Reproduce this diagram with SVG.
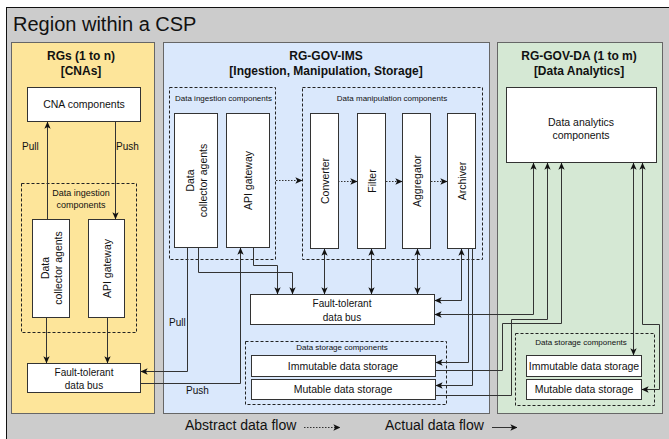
<svg xmlns="http://www.w3.org/2000/svg" width="669" height="439" viewBox="0 0 669 439">
<style>
text{font-family:"Liberation Sans",Arial,sans-serif;fill:#111}
.t{font-size:10.5px;text-anchor:middle}
.s{font-size:8px}
.b{font-size:12px;font-weight:bold;text-anchor:middle}
.box{fill:#fff;stroke:#333;stroke-width:1}
.dash{fill:none;stroke:#222;stroke-width:1;stroke-dasharray:3 2}
.c{fill:none;stroke:#333;stroke-width:1}
.dot{fill:none;stroke:#333;stroke-width:1;stroke-dasharray:1.5 1.5}
.v{font-size:10.5px;text-anchor:middle;dominant-baseline:central}
</style>
<defs>
<marker id="a" viewBox="0 0 10 10" refX="9.5" refY="5" markerWidth="7" markerHeight="7" markerUnits="userSpaceOnUse" orient="auto-start-reverse"><path d="M0,0.5 L10,5 L0,9.5 L2.5,5 z" fill="#111"/></marker>
</defs>
<rect x="6.5" y="7.5" width="670" height="440" fill="#cccccc" stroke="#111"/>
<text x="13" y="31" style="font-size:20px">Region within a CSP</text>

<g id="panel-rgs">
<rect x="11.5" y="42.5" width="143" height="371" fill="#fde59a" stroke="#666"/>
<text class="b" x="81" y="60">RGs (1 to n)</text>
<text class="b" x="81" y="75">[CNAs]</text>
</g>
<g id="panel-ims">
<rect x="163.5" y="42.5" width="326" height="371" fill="#dae8fc" stroke="#666"/>
<text class="b" x="326" y="60">RG-GOV-IMS</text>
<text class="b" x="326" y="75">[Ingestion, Manipulation, Storage]</text>
</g>
<g id="panel-da">
<rect x="497.5" y="42.5" width="165" height="371" fill="#d5e8d4" stroke="#666"/>
<text class="b" x="579" y="60">RG-GOV-DA (1 to m)</text>
<text class="b" x="579" y="75">[Data Analytics]</text>
</g>

<g id="y-cna">
<rect class="box" x="27.5" y="87.5" width="113" height="34"/>
<text class="t" x="84" y="108">CNA components</text>
</g>
<g id="y-ingestion">
<rect class="dash" x="21.5" y="183.5" width="115" height="149"/>
<text x="81" y="196" style="font-size:9px;text-anchor:middle">Data ingestion</text>
<text x="81" y="208" style="font-size:9px;text-anchor:middle">components</text>
</g>
<g id="y-dca">
<rect class="box" x="32.5" y="219.5" width="37" height="98"/>
<text class="v" transform="translate(45,268) rotate(-90)">Data</text>
<text class="v" transform="translate(58,268) rotate(-90)">collector agents</text>
</g>
<g id="y-api">
<rect class="box" x="88.5" y="219.5" width="36" height="98"/>
<text class="v" transform="translate(106.5,268.5) rotate(-90)">API gateway</text>
</g>
<g id="y-bus">
<rect class="box" x="27.5" y="363.5" width="113" height="29"/>
<text class="t" x="84" y="375.5" style="font-size:10px">Fault-tolerant</text>
<text class="t" x="84" y="389" style="font-size:10px">data bus</text>
</g>

<g id="b-ingestion">
<rect class="dash" x="169.5" y="87.5" width="106" height="172"/>
<text class="s" x="175" y="101">Data ingestion components</text>
</g>
<g id="b-dca">
<rect class="box" x="174.5" y="113.5" width="43" height="134"/>
<text class="v" transform="translate(190,180.5) rotate(-90)">Data</text>
<text class="v" transform="translate(203,180.5) rotate(-90)">collector agents</text>
</g>
<g id="b-api">
<rect class="box" x="226.5" y="113.5" width="43" height="134"/>
<text class="v" transform="translate(248,180.5) rotate(-90)">API gateway</text>
</g>
<g id="b-manipulation">
<rect class="dash" x="302.5" y="87.5" width="180" height="172"/>
<text class="s" x="392" y="101" style="text-anchor:middle">Data manipulation components</text>
</g>
<g id="b-converter">
<rect class="box" x="310.5" y="113.5" width="28" height="135"/>
<text class="v" transform="translate(324.5,181) rotate(-90)">Converter</text>
</g>
<g id="b-filter">
<rect class="box" x="357.5" y="113.5" width="28" height="135"/>
<text class="v" transform="translate(371.5,181) rotate(-90)">Filter</text>
</g>
<g id="b-aggregator">
<rect class="box" x="402.5" y="113.5" width="28" height="135"/>
<text class="v" transform="translate(416.5,181) rotate(-90)">Aggregator</text>
</g>
<g id="b-archiver">
<rect class="box" x="447.5" y="113.5" width="28" height="135"/>
<text class="v" transform="translate(461.5,181) rotate(-90)">Archiver</text>
</g>
<g id="b-bus">
<rect class="box" x="250.5" y="294.5" width="184" height="30"/>
<text class="t" x="342" y="306.5" style="font-size:10px">Fault-tolerant</text>
<text class="t" x="342" y="320.5" style="font-size:10px">data bus</text>
</g>
<g id="b-storage">
<rect class="dash" x="245.5" y="341.5" width="201" height="63"/>
<text class="s" x="342" y="350" style="text-anchor:middle">Data storage components</text>
</g>
<g id="b-immutable">
<rect class="box" x="251.5" y="355.5" width="184" height="21"/>
<text class="t" x="343" y="369.5">Immutable data storage</text>
</g>
<g id="b-mutable">
<rect class="box" x="251.5" y="379.5" width="184" height="20"/>
<text class="t" x="343" y="393">Mutable data storage</text>
</g>

<g id="g-analytics">
<rect class="box" x="506.5" y="87.5" width="150" height="75"/>
<text class="t" x="581" y="125.5">Data analytics</text>
<text class="t" x="581" y="138.5">components</text>
</g>
<g id="g-storage">
<rect class="dash" x="515.5" y="333.5" width="139" height="72"/>
<text class="s" x="581" y="345" style="text-anchor:middle">Data storage components</text>
</g>
<g id="g-immutable">
<rect class="box" x="526.5" y="355.5" width="115" height="21"/>
<text class="t" x="584" y="369.5">Immutable data storage</text>
</g>
<g id="g-mutable">
<rect class="box" x="526.5" y="379.5" width="115" height="20"/>
<text class="t" x="584" y="393">Mutable data storage</text>
</g>

<g id="connectors">
<path class="c" d="M47.5,219 V122" marker-end="url(#a)"/>
<path class="c" d="M115.5,122 V219" marker-end="url(#a)"/>
<path class="c" d="M46.5,318 V363" marker-end="url(#a)"/>
<path class="c" d="M107.5,318 V363" marker-end="url(#a)"/>
<path class="c" d="M187.5,248 V371.5 H141" marker-end="url(#a)"/>
<path class="c" d="M141,383.5 H240.5 V248" marker-end="url(#a)"/>
<path class="c" d="M198.5,248 V272.5 H292.5 V294" marker-end="url(#a)"/>
<path class="c" d="M253.5,248 V265.5 H277.5 V294" marker-end="url(#a)"/>
<path class="c" d="M324.5,249 V294" marker-start="url(#a)" marker-end="url(#a)"/>
<path class="c" d="M371.5,249 V294" marker-start="url(#a)" marker-end="url(#a)"/>
<path class="c" d="M417.5,249 V294" marker-start="url(#a)" marker-end="url(#a)"/>
<path class="c" d="M461.5,249 V300.5 H435" marker-start="url(#a)" marker-end="url(#a)"/>
<path class="c" d="M468.5,249 V362.5 H436" marker-end="url(#a)"/>
<path class="c" d="M472.5,249 V385.5 H436" marker-end="url(#a)"/>
<path class="c" d="M533.5,163 V314.5 H435" marker-start="url(#a)" marker-end="url(#a)"/>
<path class="c" d="M436,370.5 H502.5 V323.5 H561.5 V163" marker-end="url(#a)"/>
<path class="c" d="M436,395.5 H511.5 V319.5 H547.5 V163" marker-end="url(#a)"/>
<path class="c" d="M633.5,163 V355" marker-start="url(#a)" marker-end="url(#a)"/>
<path class="c" d="M642.5,163 V324.5 H659.5 V389.5 H642" marker-start="url(#a)" marker-end="url(#a)"/>
<path class="dot" d="M276,180.5 H302" marker-end="url(#a)"/>
<path class="dot" d="M338,181.5 H357" marker-end="url(#a)"/>
<path class="dot" d="M386,181.5 H402" marker-end="url(#a)"/>
<path class="dot" d="M431,181.5 H447" marker-end="url(#a)"/>
<text x="22" y="150" style="font-size:10px">Pull</text>
<text x="116" y="150" style="font-size:10px">Push</text>
<text x="169" y="326" style="font-size:10px">Pull</text>
<text x="186" y="394" style="font-size:10px">Push</text>
</g>

<g id="legend">
<text x="185" y="430" style="font-size:14px">Abstract data flow</text>
<path class="dot" d="M304,427.5 H340" marker-end="url(#a)"/>
<text x="385" y="430" style="font-size:14px">Actual data flow</text>
<path class="c" d="M492,427.5 H517" marker-end="url(#a)"/>
</g>
</svg>
